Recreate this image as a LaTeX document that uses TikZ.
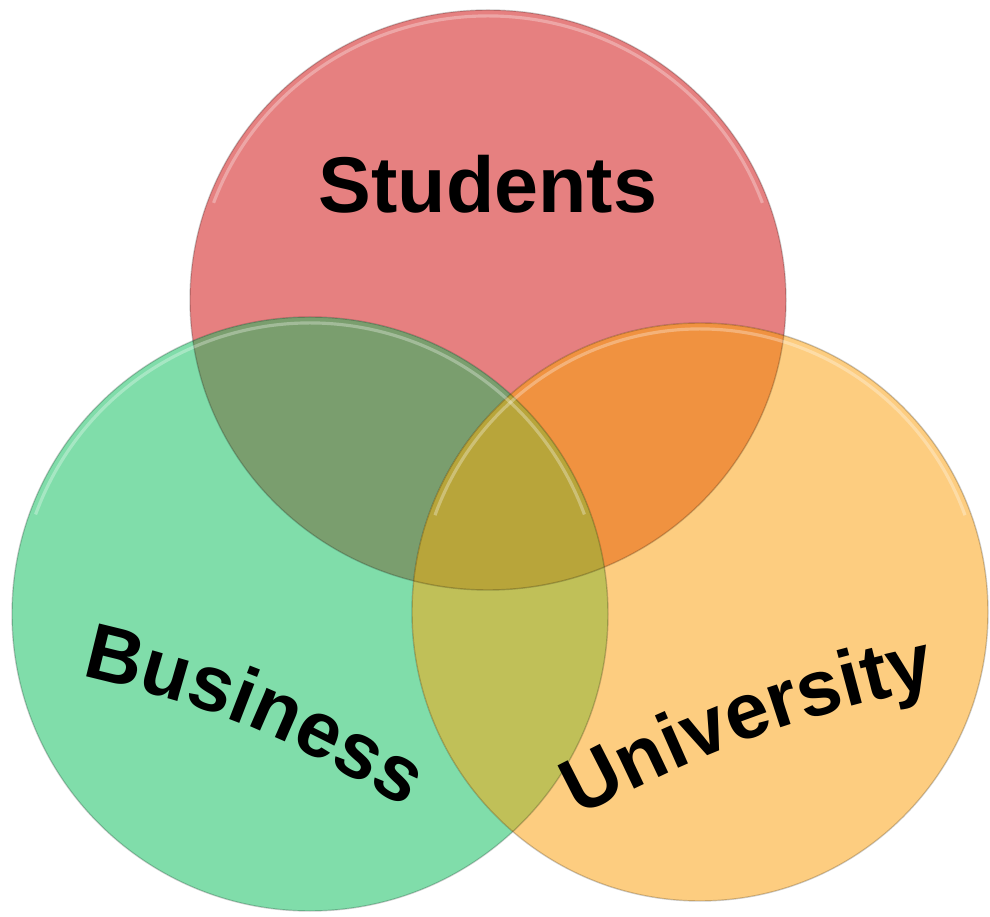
\documentclass[tikz,border=0pt]{standalone}
\usepackage{fontspec}
\setsansfont{Liberation Sans}
\usetikzlibrary{decorations.text}
\definecolor{studred}{RGB}{230,128,128}
\definecolor{busgreen}{RGB}{128,221,170}
\definecolor{uniorange}{RGB}{253,205,128}
\definecolor{studbus}{RGB}{122,158,110}
\definecolor{studuni}{RGB}{240,146,64}
\definecolor{busuni}{RGB}{192,192,88}
\definecolor{allthree}{RGB}{184,165,58}
\newcommand\vennfont{\sffamily\bfseries\fontsize{45}{54}\selectfont}

\begin{document}
\begin{tikzpicture}[x=.02cm, y=.02cm,
    rim/.style={draw=black, draw opacity=.2, line width=.8pt},
    glint/.style={draw=white, draw opacity=.3, line width=1.8pt}]
    \useasboundingbox (0,0) rectangle (990,916);
    \coordinate (stud) at (488,616);
    \coordinate (bus) at (310,302);
    \coordinate (uni) at (700,304);

    \fill[studred](stud) ellipse [x radius=298, y radius=290];
    \fill[busgreen](bus) ellipse [x radius=298, y radius=297];
    \fill[uniorange](uni) ellipse [x radius=288, y radius=289];

    \begin{scope}
        \clip(stud) ellipse [x radius=298, y radius=290];
        \fill[studbus](bus) ellipse [x radius=298, y radius=297];
        \fill[studuni](uni) ellipse [x radius=288, y radius=289];
    \end{scope}
    \begin{scope}
        \clip(bus) ellipse [x radius=298, y radius=297];
        \fill[busuni](uni) ellipse [x radius=288, y radius=289];
    \end{scope}
    \begin{scope}
        \clip(stud) ellipse [x radius=298, y radius=290];
        \clip(bus) ellipse [x radius=298, y radius=297];
        \fill[allthree](uni) ellipse [x radius=288, y radius=289];
    \end{scope}

    \draw[rim](stud) ellipse [x radius=298, y radius=290];
    \draw[rim](bus) ellipse [x radius=298, y radius=297];
    \draw[rim](uni) ellipse [x radius=288, y radius=289];
        \draw[glint](stud) ++(160:292 and 284) arc [start angle=160, end angle=20, x radius=292, y radius=284];
        \draw[glint](bus) ++(160:292 and 291) arc [start angle=160, end angle=20, x radius=292, y radius=291];
        \draw[glint](uni) ++(160:282 and 283) arc [start angle=160, end angle=20, x radius=282, y radius=283];

    \node[anchor=base, font=\vennfont] (studlabel) at (488,703) {Students};
    \path[decorate, decoration={text along path, text align=center,
        text={|\vennfont|Business}}] (59,245) to[bend left=10] (424,96);
    \path[decorate, decoration={text along path, text align=center,
        text={|\vennfont|University}}] (562,90) to[bend left=8] (955,234);
\end{tikzpicture}
\end{document}
